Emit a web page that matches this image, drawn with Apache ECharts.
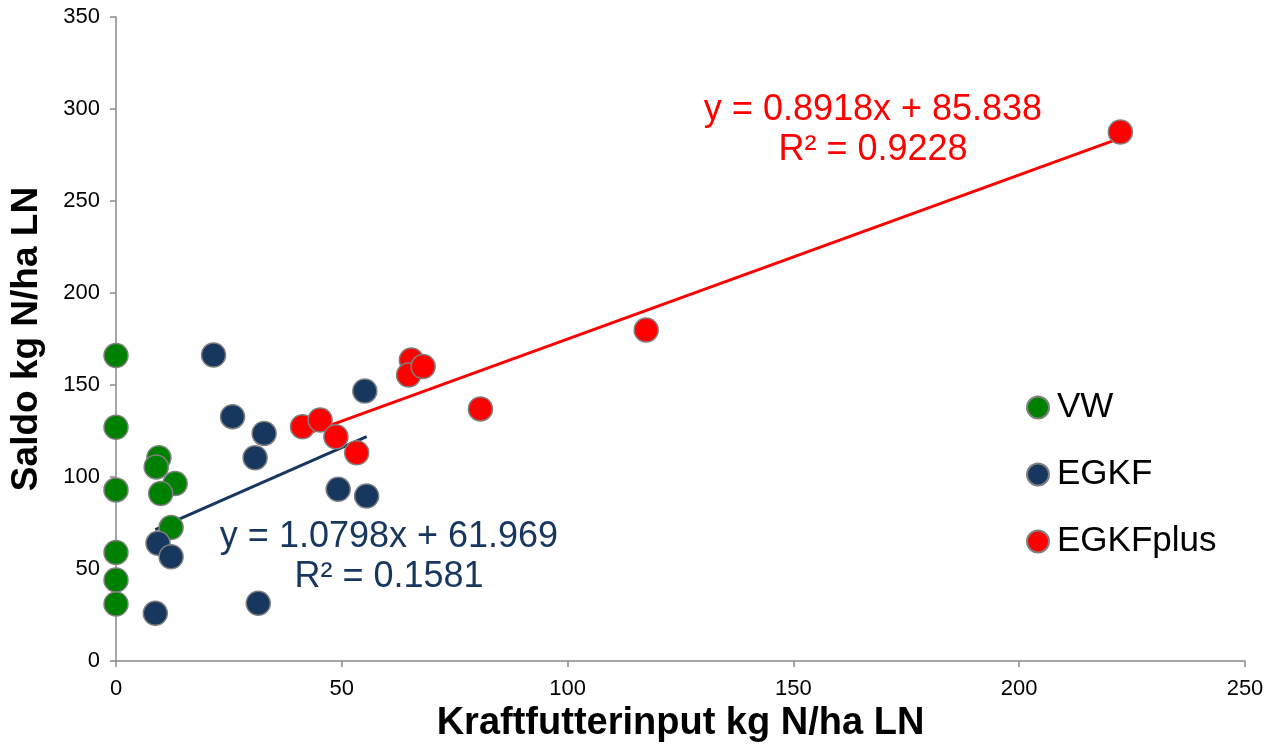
<!DOCTYPE html>
<html>
<head>
<meta charset="utf-8">
<script src="https://cdn.jsdelivr.net/npm/echarts@6/dist/echarts.min.js"></script>
<style>html,body{margin:0;padding:0;background:#fff}#c{width:1273px;height:748px}</style>
</head>
<body>
<div id="c"></div>
<script>
const vwX = [0, 0, 0, 0, 0, 0, 9.5, 8.9, 13.1, 9.9, 12.2];
const vwY = [166, 127, 93, 59, 44, 31, 110.5, 105.5, 96.5, 91, 72.5];
const egkfX = [21.6, 25.8, 32.8, 30.8, 9.3, 12.2, 8.7, 31.5, 55.1, 49.2, 55.5];
const egkfY = [166.3, 132.8, 123.7, 110.5, 64, 56.7, 25.9, 31.4, 146.7, 93.3, 89.7];
const plusX = [41.3, 45.2, 48.7, 53.3, 65.4, 64.8, 68, 80.7, 117.4, 222.4];
const plusY = [127.3, 131, 121.9, 113.2, 163.6, 155.4, 160, 137, 179.9, 287.5];
const egkfFit = [1.0798, 61.969];
const plusFit = [0.8918, 85.838];
const egkfR2 = '0.1581';
const plusR2 = '0.9228';
const xTicks = [0, 50, 100, 150, 200, 250];
const yTicks = [0, 50, 100, 150, 200, 250, 300, 350];

const pts = (xs, ys) => xs.map((x, i) => [x, ys[i]]);
const fitLine = (xs, f) => {
  const a = Math.min(...xs), b = Math.max(...xs);
  return [[a, f[0] * a + f[1]], [b, f[0] * b + f[1]]];
};

const GREEN = '#008000', NAVY = '#17375E', RED = '#FF0000';
const marker = c => ({ color: c, borderColor: '#7f7f7f', borderWidth: 1.5, opacity: 1 });
const FONT = 'Liberation Sans';

const chart = echarts.init(document.getElementById('c'));
chart.setOption({
  animation: false,
  grid: { left: 113, right: 28, top: 17, bottom: 87 },
  xAxis: {
    type: 'value', min: xTicks[0], max: xTicks[xTicks.length - 1], interval: xTicks[1] - xTicks[0],
    name: 'Kraftfutterinput kg N/ha LN', nameLocation: 'middle', nameGap: 42,
    nameTextStyle: { fontFamily: FONT, fontWeight: 'bold', fontSize: 38, color: '#000' },
    axisLine: { lineStyle: { color: '#898989', width: 1.5 } },
    axisTick: { show: true, length: 6, lineStyle: { color: '#898989', width: 1.5 } },
    axisLabel: { fontFamily: FONT, fontSize: 22, color: '#000', margin: 17 },
    splitLine: { show: false }
  },
  yAxis: {
    type: 'value', min: yTicks[0], max: yTicks[yTicks.length - 1], interval: yTicks[1] - yTicks[0],
    name: 'Saldo kg N/ha LN', nameLocation: 'middle', nameGap: 71,
    nameTextStyle: { fontFamily: FONT, fontWeight: 'bold', fontSize: 37, color: '#000' },
    axisLine: { show: true, lineStyle: { color: '#898989', width: 1.5 } },
    axisTick: { show: true, length: 6, lineStyle: { color: '#898989', width: 1.5 } },
    axisLabel: { fontFamily: FONT, fontSize: 22, color: '#000', margin: 16 },
    splitLine: { show: false }
  },
  legend: {
    orient: 'vertical', left: 1021, top: 385, itemGap: 32,
    icon: 'circle', itemWidth: 22, itemHeight: 22,
    textStyle: { fontFamily: FONT, fontSize: 35, lineHeight: 35, color: '#000', padding: [0, 0, 0, 3] },
    data: ['VW', 'EGKF', 'EGKFplus']
  },
  series: [
    { name: 'EGKF fit', type: 'line', data: fitLine(egkfX, egkfFit), symbol: 'none', z: 1,
      lineStyle: { color: NAVY, width: 3 }, silent: true },
    { name: 'EGKFplus fit', type: 'line', data: fitLine(plusX, plusFit), symbol: 'none', z: 1,
      lineStyle: { color: RED, width: 3 }, silent: true },
    { name: 'VW', type: 'scatter', data: pts(vwX, vwY), symbolSize: 24, itemStyle: marker(GREEN), z: 3 },
    { name: 'EGKF', type: 'scatter', data: pts(egkfX, egkfY), symbolSize: 24, itemStyle: marker(NAVY), z: 3 },
    { name: 'EGKFplus', type: 'scatter', data: pts(plusX, plusY), symbolSize: 24, itemStyle: marker(RED), z: 3 }
  ],
  graphic: [
    { type: 'text', x: 873, y: 110, style: { text: 'y = ' + plusFit[0] + 'x + ' + plusFit[1], fill: RED, font: '36px "Liberation Sans"', textAlign: 'center', textVerticalAlign: 'middle' } },
    { type: 'text', x: 873, y: 150, style: { text: 'R² = ' + plusR2, fill: RED, font: '36px "Liberation Sans"', textAlign: 'center', textVerticalAlign: 'middle' } },
    { type: 'text', x: 389, y: 537, style: { text: 'y = ' + egkfFit[0] + 'x + ' + egkfFit[1], fill: NAVY, font: '36px "Liberation Sans"', textAlign: 'center', textVerticalAlign: 'middle' } },
    { type: 'text', x: 389, y: 577, style: { text: 'R² = ' + egkfR2, fill: NAVY, font: '36px "Liberation Sans"', textAlign: 'center', textVerticalAlign: 'middle' } }
  ]
});
</script>
</body>
</html>
